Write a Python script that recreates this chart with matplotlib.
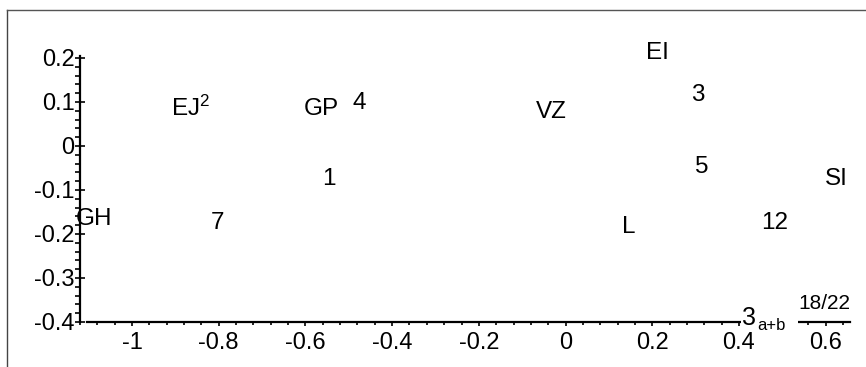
import matplotlib
matplotlib.use("Agg")
import matplotlib.pyplot as plt
from matplotlib.lines import Line2D
from matplotlib.patches import Rectangle
from matplotlib.ticker import MultipleLocator

plt.rcParams['font.family'] = ['Liberation Sans', 'DejaVu Sans']
plt.rcParams['mathtext.fontset'] = 'custom'
plt.rcParams['mathtext.rm'] = 'Liberation Sans'
plt.rcParams['mathtext.it'] = 'Liberation Sans'

# point labels and their coordinates
names = ['EJ$^{2}$', 'GP', '4', 'VZ', 'EI', '3', '5', 'SI', '1', 'GH', '7', 'L', '12']
xs = [-0.866, -0.563, -0.476, -0.032, 0.211, 0.304, 0.313, 0.625, -0.547, -1.088, -0.803, 0.146, 0.483]
ys = [0.085, 0.084, 0.097, 0.077, 0.211, 0.116, -0.048, -0.075, -0.075, -0.166, -0.175, -0.184, -0.175]

x_ticks = [-1, -0.8, -0.6, -0.4, -0.2, 0, 0.2, 0.4, 0.6]
x_ticklabels = ['-1', '-0.8', '-0.6', '-0.4', '-0.2', '0', '0.2', '0.4', '0.6']
y_ticks = [-0.4, -0.3, -0.2, -0.1, 0, 0.1, 0.2]
y_ticklabels = ['-0.4', '-0.3', '-0.2', '-0.1', '0', '0.1', '0.2']

x_axis_start, x_axis_end = -1.105, 0.657
y_axis_start, y_axis_end = -0.4, 0.205

W, H = 866, 367
fig = plt.figure(figsize=(W / 100, H / 100), dpi=100)
ax = fig.add_axes([80 / W, 45 / H, (W - 80) / W, (322 - 12) / H])
ax.set_xlim(x_axis_start, 0.693)
ax.set_ylim(y_axis_start, 0.3045)

for s in ['top', 'right']:
    ax.spines[s].set_visible(False)
ax.spines['left'].set_bounds(y_axis_start, y_axis_end)
ax.spines['bottom'].set_bounds(x_axis_start, x_axis_end)
ax.spines['left'].set_linewidth(1.6)
ax.spines['bottom'].set_linewidth(1.6)

ax.set_xticks(x_ticks)
ax.set_xticklabels(x_ticklabels)
ax.set_yticks(y_ticks)
ax.set_yticklabels(y_ticklabels)
ax.xaxis.set_minor_locator(MultipleLocator(0.04))
ax.yaxis.set_minor_locator(MultipleLocator(0.02))
ax.tick_params(axis='x', which='major', direction='out', length=3, width=1.2,
               labelsize=17, pad=4)
ax.tick_params(axis='x', which='minor', direction='out', length=2.5, width=1.2)
ax.tick_params(axis='y', which='major', direction='inout', length=7, width=1.2,
               labelsize=17, pad=0.5)
ax.tick_params(axis='y', which='minor', direction='out', length=3.5, width=1.2)

# drop minor ticks past the drawn axis ends
ax.set_xticks([t for t in ax.xaxis.get_minorticklocs() if t <= x_axis_end], minor=True)
ax.set_yticks([t for t in ax.yaxis.get_minorticklocs() if y_axis_start <= t <= y_axis_end], minor=True)

for name, x, y in zip(names, xs, ys):
    ax.text(x, y, name, fontsize=17.5, ha='center', va='center', zorder=4)

# opaque backgrounds behind the GH label and the axis title
ax.add_patch(Rectangle((-1.115, -0.198), 0.085, 0.092, facecolor='white',
                       edgecolor='none', zorder=3, clip_on=False))
ax.add_patch(Rectangle((0.405, -0.416), 0.131, 0.05, facecolor='white',
                       edgecolor='none', zorder=3, clip_on=False))

ax.text(0.423, -0.392, '3', fontsize=18, ha='center', va='center', zorder=4)
ax.text(0.474, -0.408, 'a+b', fontsize=12, ha='center', va='center', zorder=4)
ax.text(0.597, -0.358, '18/22', fontsize=15, ha='center', va='center', zorder=4)

# outer frame
fig.add_artist(Line2D([6.5 / W, 6.5 / W], [0, 1 - 10 / H], color='#444444', lw=1))
fig.add_artist(Line2D([6.5 / W, 1], [1 - 10 / H, 1 - 10 / H], color='#555555', lw=1))

fig.savefig('out.png', dpi=100, facecolor='white')
